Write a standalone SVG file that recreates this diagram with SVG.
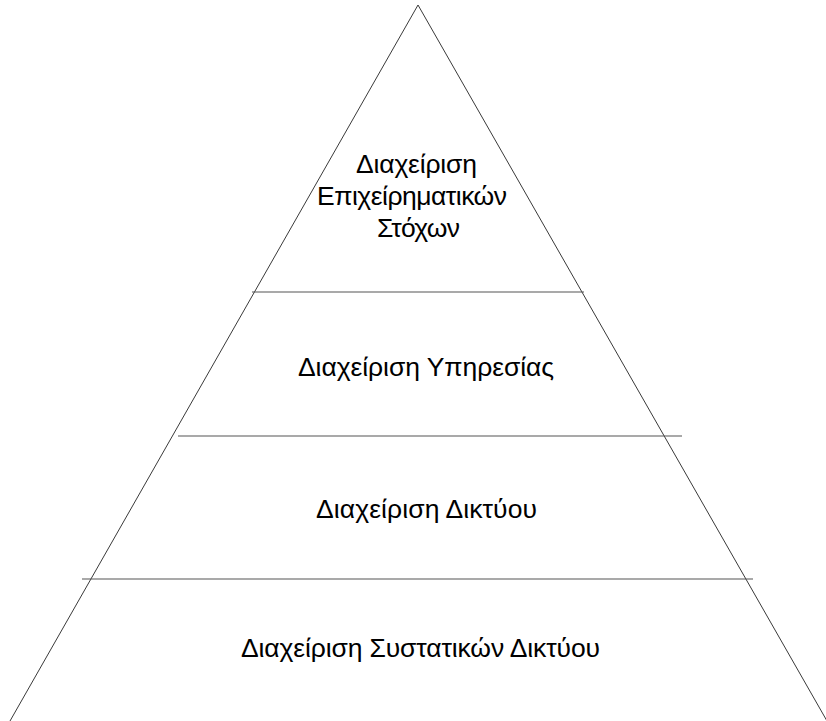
<svg xmlns="http://www.w3.org/2000/svg" width="826" height="721" viewBox="0 0 826 721">
  <style>
    .edge { stroke: #3a3a3a; stroke-width: 1; fill: none; }
    .div { stroke: #555555; stroke-width: 1.2; fill: none; }
    .lbl { font-family: "Liberation Sans", Arial, sans-serif; font-size: 26.5px; fill: #000000; text-anchor: middle; }
  </style>
  <rect x="0" y="0" width="826" height="721" fill="#ffffff"/>
  <g id="connectors">
    <line class="edge" x1="418" y1="5" x2="10" y2="721"/>
    <line class="edge" x1="418" y1="5" x2="827" y2="721"/>
    <line class="div" x1="252" y1="292" x2="584" y2="292"/>
    <line class="div" x1="178" y1="436" x2="682" y2="436"/>
    <line class="div" x1="82" y1="579" x2="753" y2="579"/>
  </g>
  <g id="layer-goals">
    <text class="lbl" x="416.5" y="173" textLength="121">Διαχείριση</text>
    <text class="lbl" x="412" y="205" textLength="190">Επιχείρηματικών</text>
    <text class="lbl" x="418.5" y="237" textLength="83">Στόχων</text>
  </g>
  <g id="layer-service">
    <text class="lbl" x="426" y="376" textLength="256">Διαχείριση Υπηρεσίας</text>
  </g>
  <g id="layer-network">
    <text class="lbl" x="426.5" y="518" textLength="221">Διαχείριση Δικτύου</text>
  </g>
  <g id="layer-components">
    <text class="lbl" x="420.5" y="657" textLength="359">Διαχείριση Συστατικών Δικτύου</text>
  </g>
</svg>
